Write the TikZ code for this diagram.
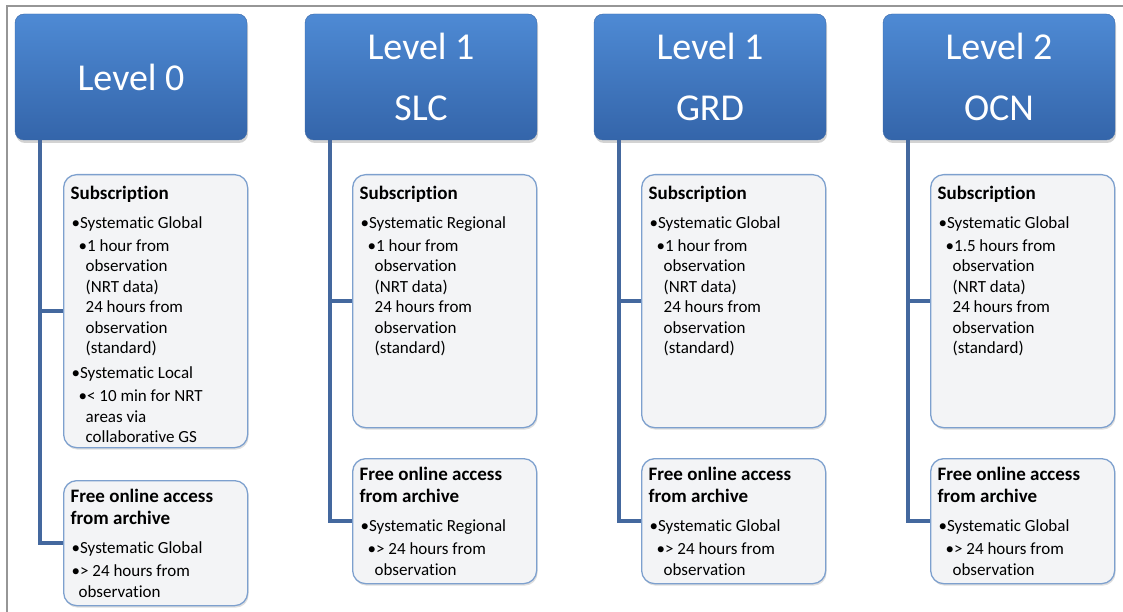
\documentclass[tikz,border=0pt]{standalone}
\usepackage{fontspec}
\setmainfont[Ligatures=NoCommon]{Carlito}
\usepackage{tikz}
\usetikzlibrary{shadows, positioning}

\definecolor{hdrtop}{RGB}{78,138,212}
\definecolor{hdrbot}{RGB}{52,101,170}
\definecolor{hdredge}{RGB}{58,104,168}
\definecolor{boxfill}{RGB}{243,244,246}
\definecolor{boxedge}{RGB}{125,160,206}
\definecolor{connline}{RGB}{68,104,158}
\definecolor{framegray}{RGB}{150,150,150}

\newcommand{\bulA}{\hspace*{1pt}•}
\newcommand{\bulB}{\hspace*{8pt}•}
\newcommand{\contB}{\hspace*{15pt}}
\newcommand{\boxtitle}[1]{{\fontsize{19}{22}\selectfont\bfseries #1}}

\begin{document}
\begin{tikzpicture}[x=1pt, y=-1pt,
    level/.style={rectangle, rounded corners=9pt, minimum width=232pt, minimum height=126pt,
      top color=hdrtop, bottom color=hdrbot, draw=hdredge, text=white, align=center,
      font=\fontsize{38}{61}\selectfont,
      drop shadow={opacity=0.35, shadow xshift=1pt, shadow yshift=-3pt}},
    info/.style={rectangle, rounded corners=13pt, draw=boxedge, line width=1.3pt, fill=boxfill,
      anchor=north west, inner xsep=7pt, inner ysep=12pt, font=\fontsize{17}{20.5}\selectfont,
      drop shadow={opacity=0.25, shadow xshift=1pt, shadow yshift=-2pt}},
    free/.style={info, inner ysep=9pt},
    conn/.style={draw=connline, line width=4pt}]
    \useasboundingbox (0,0) rectangle (1123,612);
    \draw[framegray, line width=1.2pt] (7,612) -- (7,6) -- (1123,6);

    \node[level] (h0) at (131,77) {Level 0};
    \node[level] (h1) at (421,77) {Level 1\\SLC};
    \node[level] (h2) at (710,77) {Level 1\\GRD};
    \node[level] (h3) at (999,77) {Level 2\\OCN};

    \node[info] (s0) at (63,174) {\parbox[c][249pt][t]{170pt}{\raggedright
      \boxtitle{Subscription}\\[8pt]
      \bulA Systematic Global\\[2.5pt]
      \bulB 1 hour from\\
      \contB observation\\
      \contB (NRT data)\\
      \contB 24 hours from\\
      \contB observation\\
      \contB (standard)\\[4.5pt]
      \bulA Systematic Local\\[2.5pt]
      \bulB < 10 min for NRT\\
      \contB areas via\\
      \contB collaborative GS}};
    \node[info] (s1) at (352,174) {\parbox[c][229pt][t]{170pt}{\raggedright
      \boxtitle{Subscription}\\[8pt]
      \bulA Systematic Regional\\[2.5pt]
      \bulB 1 hour from\\
      \contB observation\\
      \contB (NRT data)\\
      \contB 24 hours from\\
      \contB observation\\
      \contB (standard)}};
    \node[info] (s2) at (641,174) {\parbox[c][229pt][t]{170pt}{\raggedright
      \boxtitle{Subscription}\\[8pt]
      \bulA Systematic Global\\[2.5pt]
      \bulB 1 hour from\\
      \contB observation\\
      \contB (NRT data)\\
      \contB 24 hours from\\
      \contB observation\\
      \contB (standard)}};
    \node[info] (s3) at (930,174) {\parbox[c][229pt][t]{170pt}{\raggedright
      \boxtitle{Subscription}\\[8pt]
      \bulA Systematic Global\\[2.5pt]
      \bulB 1.5 hours from\\
      \contB observation\\
      \contB (NRT data)\\
      \contB 24 hours from\\
      \contB observation\\
      \contB (standard)}};

    \node[free] (f0) at (63,480) {\parbox[c][107pt][t]{170pt}{\raggedright
      \boxtitle{Free online access}\\[1.5pt]
      \boxtitle{from archive}\\[8.5pt]
      \bulA Systematic Global\\[2.5pt]
      \bulA > 24 hours from\\
      \hspace*{8pt}observation}};
    \node[free] (f1) at (352,458) {\parbox[c][107pt][t]{170pt}{\raggedright
      \boxtitle{Free online access}\\[1.5pt]
      \boxtitle{from archive}\\[8.5pt]
      \bulA Systematic Regional\\[2.5pt]
      \bulB > 24 hours from\\
      \contB observation}};
    \node[free] (f2) at (641,458) {\parbox[c][107pt][t]{170pt}{\raggedright
      \boxtitle{Free online access}\\[1.5pt]
      \boxtitle{from archive}\\[8.5pt]
      \bulA Systematic Global\\[2.5pt]
      \bulB > 24 hours from\\
      \contB observation}};
    \node[free] (f3) at (930,458) {\parbox[c][107pt][t]{170pt}{\raggedright
      \boxtitle{Free online access}\\[1.5pt]
      \boxtitle{from archive}\\[8.5pt]
      \bulA Systematic Global\\[2.5pt]
      \bulB > 24 hours from\\
      \contB observation}};

    \draw[conn] ([xshift=25pt]h0.south west) |- (s0.west);
    \draw[conn] ([xshift=25pt]h0.south west) |- (f0.west);
    \draw[conn] ([xshift=25pt]h1.south west) |- (s1.west);
    \draw[conn] ([xshift=25pt]h1.south west) |- (f1.west);
    \draw[conn] ([xshift=25pt]h2.south west) |- (s2.west);
    \draw[conn] ([xshift=25pt]h2.south west) |- (f2.west);
    \draw[conn] ([xshift=25pt]h3.south west) |- (s3.west);
    \draw[conn] ([xshift=25pt]h3.south west) |- (f3.west);
\end{tikzpicture}
\end{document}
